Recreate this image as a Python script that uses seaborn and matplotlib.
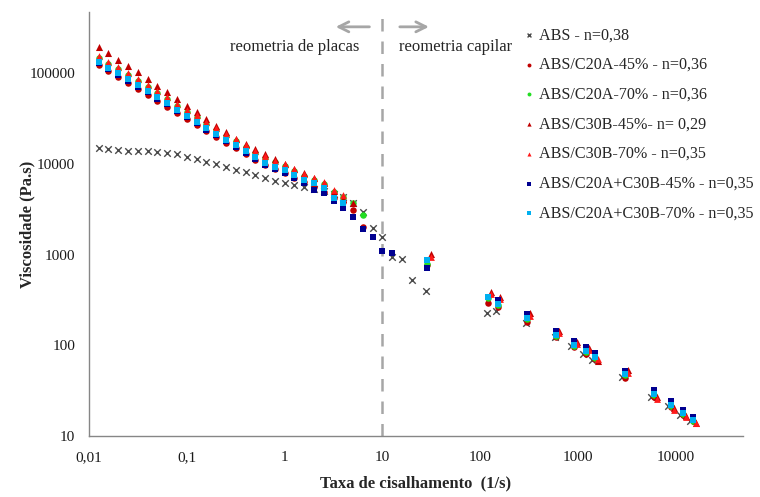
import matplotlib
matplotlib.use("Agg")
import matplotlib.pyplot as plt
from matplotlib.ticker import LogLocator, FuncFormatter, NullFormatter
import numpy as np
import pandas as pd
import seaborn as sns

# %% ------------------------------------------------------------------
#                               data
# ----------------------------------------------------------------------
# plate rheometry shear rates (1/s)
shear_plate = [0.0126, 0.0158, 0.0200, 0.0251, 0.0316, 0.0398, 0.0501, 0.0631, 0.0794,
               0.100, 0.126, 0.158, 0.200, 0.251, 0.316, 0.398, 0.501, 0.631, 0.794,
               1.00, 1.26, 1.58, 2.00, 2.51, 3.16, 3.98, 5.01, 6.31, 7.94, 10.0,
               12.6, 15.8, 20.0]
# capillary rheometry shear rates (1/s)
cap_shear = [28.5, 121, 150, 300, 596, 905, 1190, 1490, 2980, 5980, 8920, 11700, 14900]
cap_shear_tri = [31.5, 128, 159, 323, 644, 984, 1306, 1610, 3270, 6380, 9440, 12700, 16100]
cap_shear_abs = [27.9, 116, 144, 294, 582, 842, 1117, 1380, 2800, 5530, 8380, 11030, 13960]

abs_plate = [15100, 14600, 14200, 13900, 13900, 13800, 13600, 13100, 12800, 12000, 11200,
             10600, 9910, 9320, 8570, 8080, 7550, 7000, 6560, 6150, 5850, 5560, 5280, 4970,
             4660, 4280, 3730, 2950, 1950, 1570, 948, 894, 525]
abs_cap = [397, 229, 241, 177, 122, 99, 80, 69, 45, 27, 21.4, 17, 14.8]

c20a45_plate = [123000, 104500, 90800, 78000, 67800, 58200, 50000, 42900, 36400, 31300,
                27200, 23000, 19800, 17000, 15000, 12900, 11000, 9730, 8790, 7940, 7000,
                6240, 5560, 4900, 4210, 3830, 3100, 2030]
c20a45_cap = [760, 295, 266, 182, 124, 95, 80, 70, 43.3, 27, 21, 17, 14.5]

c20a70_plate = [148000, 126000, 110000, 94400, 82000, 70400, 60500, 52000, 44000, 37300,
                32500, 27500, 23600, 20300, 17900, 15400, 13200, 11500, 10400, 9480, 8350,
                7360, 6730, 5930, 4940, 4320, 3680, 2730]
c20a70_cap = [787, 330, 280, 195, 127, 98, 85, 72, 47, 28, 21.5, 17.5, 14.8]

c30b45_plate = [196000, 166000, 140000, 121000, 102000, 86300, 72800, 61500, 52000, 43800,
                37100, 31300, 26400, 22300, 19000, 16400, 14500, 12900, 11300, 10050, 8790,
                7870, 6940, 6110, 5020, 4070, 3730]
c30b45_cap = [1016, 384, 344, 225, 145, 110, 93, 67, 53, 26.7, 20.2, 16.6, 14]

c30b70_plate = [155700, 132500, 115700, 99300, 86300, 74100, 63600, 54700, 46300, 39200,
                34200, 28900, 24800, 21400, 18800, 16200, 13900, 12100, 10900, 9970, 8780,
                7740, 7080, 6240, 5200, 4540]
c30b70_cap = [950, 365, 325, 212, 138, 104, 88, 70, 50, 25.5, 19.5, 16, 13.8]

mix45_plate = [129500, 110000, 95500, 82000, 71300, 61300, 52600, 45200, 38300, 32500,
               28200, 23900, 20600, 17700, 15400, 13200, 11300, 9850, 8720, 8000, 6940,
               6210, 5150, 4740, 3930, 3290, 2580, 1900, 1550, 1100, 1050]
mix45_cap = [706, 345, 316, 221, 145, 111, 95, 81.6, 52, 32, 24.3, 19.4, 16.3]

mix70_plate = [134000, 114000, 99300, 85300, 74100, 63700, 54700, 46900, 39800, 33700,
               29300, 24900, 21400, 18400, 16200, 13900, 11900, 10300, 9310, 8570, 7550,
               6640, 6110, 5380, 4170, 3670]
mix70_cap = [871, 338, 285, 199, 130, 100.7, 87, 74.8, 48.2, 29, 22, 17.8, 15]

# name, plate values, capillary x, capillary values, marker, colour, size
series = [
    ("ABS - n=0,38", abs_plate, cap_shear_abs, abs_cap, "x", "#4a4a4a", 22),
    ("ABS/C20A-45% - n=0,36", c20a45_plate, cap_shear, c20a45_cap, "o", "#c00000", 22),
    ("ABS/C20A-70% - n=0,36", c20a70_plate, cap_shear, c20a70_cap, "o", "#22dd22", 22),
    ("ABS/C30B-45%- n= 0,29", c30b45_plate, cap_shear_tri, c30b45_cap, "^", "#c00000", 26),
    ("ABS/C30B-70% - n=0,35", c30b70_plate, cap_shear_tri, c30b70_cap, "^", "#ff1a1a", 24),
    ("ABS/C20A+C30B-45% - n=0,35", mix45_plate, cap_shear, mix45_cap, "s", "#000090", 20),
    ("ABS/C20A+C30B-70% - n=0,35", mix70_plate, cap_shear, mix70_cap, "s", "#00b0f0", 20),
]

# %% ------------------------------------------------------------------
#                               plot
# ----------------------------------------------------------------------
sns.set_style("white")
plt.rcParams["font.family"] = ["Liberation Serif", "DejaVu Serif"]

fig = plt.figure(figsize=(7.6, 4.97), dpi=100)
ax = fig.add_axes([89 / 760, 1 - 436 / 497, (743 - 89) / 760, (436 - 12) / 497])

for name, plate, capx, capy, mk, col, size in series:
    df = pd.DataFrame({"shear": list(shear_plate[:len(plate)]) + list(capx),
                       "visc": list(plate) + list(capy)})
    if mk == "x":
        sns.scatterplot(data=df, x="shear", y="visc", marker=mk, color=col, s=size,
                        linewidth=1.0, ax=ax, label=name, zorder=3)
    else:
        sns.scatterplot(data=df, x="shear", y="visc", marker=mk, color=col, s=size,
                        linewidth=0, ax=ax, label=name, zorder=3)

ax.set_xscale("log")
ax.set_yscale("log")
ax.set_xlim(0.01, 10 ** 4.685)
ax.set_ylim(10, 10 ** 5.675)

def comma_fmt(v, pos):
    if v >= 1:
        return f"{int(round(v))}"
    return f"{v:g}".replace(".", ",")

ax.xaxis.set_major_locator(LogLocator(base=10, numticks=12))
ax.yaxis.set_major_locator(LogLocator(base=10, numticks=12))
ax.xaxis.set_minor_locator(LogLocator(base=10, subs=np.arange(2, 10), numticks=12))
ax.yaxis.set_minor_locator(LogLocator(base=10, subs=np.arange(2, 10), numticks=12))
ax.xaxis.set_major_formatter(FuncFormatter(comma_fmt))
ax.yaxis.set_major_formatter(FuncFormatter(comma_fmt))
ax.xaxis.set_minor_formatter(NullFormatter())
ax.yaxis.set_minor_formatter(NullFormatter())

for s in ["top", "right"]:
    ax.spines[s].set_visible(False)
for s in ["left", "bottom"]:
    ax.spines[s].set_color("#868686")
    ax.spines[s].set_linewidth(1.0)
ax.tick_params(which="major", direction="inout", length=8, width=1, color="#868686",
               labelsize=11, labelcolor="#1a1a1a", pad=6)
ax.tick_params(which="minor", direction="out", length=4, width=1, color="#868686")
ax.tick_params(axis="x", pad=7)

ax.set_xlabel("Taxa de cisalhamento  (1/s)", fontsize=12, fontweight="bold", labelpad=8)
ax.set_ylabel("Viscosidade (Pa.s)", fontsize=12, fontweight="bold", labelpad=-4)

# boundary between plate and capillary rheometry
ax.axvline(10, color="#a6a6a6", linestyle=(0, (5, 4)), linewidth=1.8, zorder=1)
ax.annotate("", xy=(0.373, 0.965), xytext=(0.433, 0.965), xycoords="axes fraction",
            arrowprops=dict(arrowstyle="->", color="#a6a6a6", lw=2, mutation_scale=18))
ax.annotate("", xy=(0.524, 0.965), xytext=(0.471, 0.965), xycoords="axes fraction",
            arrowprops=dict(arrowstyle="->", color="#a6a6a6", lw=2, mutation_scale=18))
ax.text(0.315, 0.917, "reometria de placas", transform=ax.transAxes, ha="center",
        va="center", fontsize=12)
ax.text(0.560, 0.917, "reometria capilar", transform=ax.transAxes, ha="center",
        va="center", fontsize=12)

handles, labels = ax.get_legend_handles_labels()
ax.get_legend().remove()
fig.legend(handles, labels, loc="upper left", bbox_to_anchor=(0.681, 0.958),
           frameon=False, fontsize=11.6, labelspacing=0.85, handlelength=0.6,
           handletextpad=0.3, markerscale=0.6, borderaxespad=0)

fig.savefig("out.png", dpi=100)
plt.close("all")
